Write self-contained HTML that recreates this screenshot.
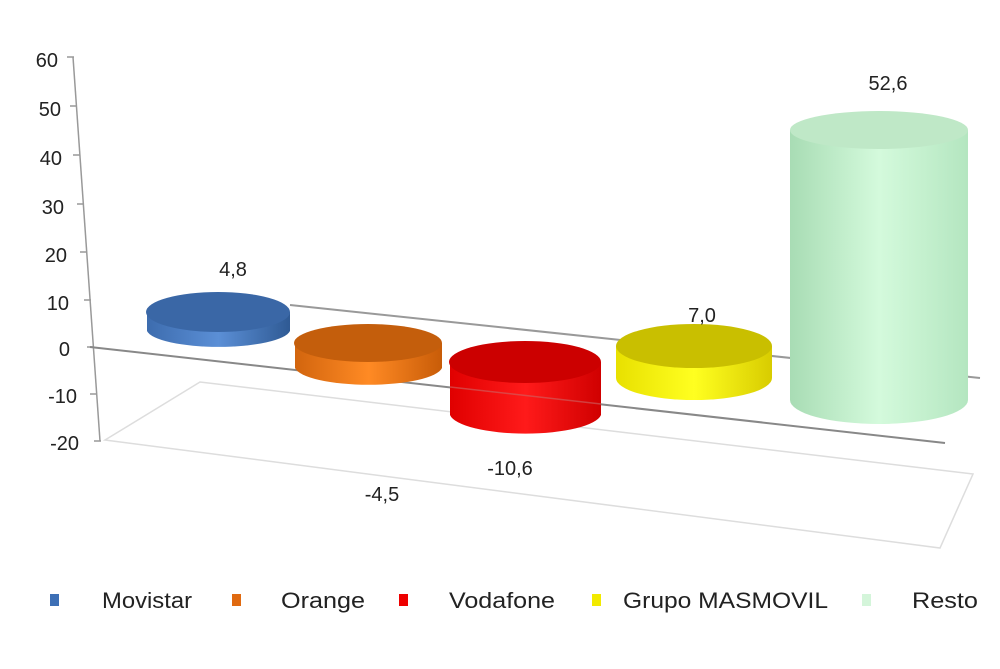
<!DOCTYPE html>
<html><head><meta charset="utf-8"><style>
body{margin:0;background:#fff;}
svg text{font-family:"Liberation Sans",Arial,sans-serif;fill:#222;}
</style></head><body>
<svg width="1000" height="664" viewBox="0 0 1000 664" xmlns="http://www.w3.org/2000/svg">
<defs>
<linearGradient id="gb" x1="0" x2="1"><stop offset="0" stop-color="#3d6cae"/><stop offset="0.5" stop-color="#5b8fd6"/><stop offset="1" stop-color="#2f5a94"/></linearGradient>
<linearGradient id="go" x1="0" x2="1"><stop offset="0" stop-color="#d2650e"/><stop offset="0.5" stop-color="#ff8a24"/><stop offset="1" stop-color="#c85c08"/></linearGradient>
<linearGradient id="gr" x1="0" x2="1"><stop offset="0" stop-color="#e00000"/><stop offset="0.5" stop-color="#ff1a1a"/><stop offset="1" stop-color="#d00000"/></linearGradient>
<linearGradient id="gy" x1="0" x2="1"><stop offset="0" stop-color="#e8e000"/><stop offset="0.5" stop-color="#ffff20"/><stop offset="1" stop-color="#d8cc00"/></linearGradient>
<linearGradient id="gg" x1="0" x2="1"><stop offset="0" stop-color="#a8dcb4"/><stop offset="0.5" stop-color="#d4fadc"/><stop offset="1" stop-color="#b4e6c0"/></linearGradient>
</defs>
<polygon points="105,440 200,382 973,474 940,548" fill="none" stroke="#ddd" stroke-width="1.5"/>
<line x1="290" y1="305" x2="980" y2="378" stroke="#999" stroke-width="2"/>
<line x1="73" y1="57" x2="100" y2="441" stroke="#999" stroke-width="1.5"/>
<g stroke="#999" stroke-width="1.5">
<line x1="67" y1="57" x2="74" y2="57"/><line x1="70" y1="106" x2="77" y2="106"/><line x1="73" y1="155" x2="80" y2="155"/><line x1="77" y1="204" x2="84" y2="204"/><line x1="80" y1="252" x2="87" y2="252"/><line x1="84" y1="300" x2="91" y2="300"/><line x1="87" y1="347" x2="94" y2="347"/><line x1="90" y1="394" x2="97" y2="394"/><line x1="94" y1="441" x2="101" y2="441"/>
</g>
<g font-size="20" text-anchor="end">
<text x="58" y="67">60</text><text x="61" y="116">50</text><text x="62" y="165">40</text><text x="64" y="214">30</text><text x="67" y="262">20</text><text x="69" y="310">10</text><text x="70" y="356">0</text><text x="77" y="403">-10</text><text x="79" y="450">-20</text>
</g>
<path d="M147,312 L147,331 A72,18 0 0 0 290,331 L290,312 Z" fill="url(#gb)"/>
<ellipse cx="218" cy="312" rx="72" ry="20" fill="#3a67a6"/>
<line x1="90" y1="347" x2="945" y2="443" stroke="#888" stroke-width="2"/>
<path d="M295,343 L295,368 A74,19 0 0 0 442,368 L442,343 Z" fill="url(#go)"/>
<ellipse cx="368" cy="343" rx="74" ry="19" fill="#c45e0c"/>
<path d="M450,362 L450,415 A76,21 0 0 0 601,415 L601,362 Z" fill="url(#gr)"/>
<ellipse cx="525" cy="362" rx="76" ry="21" fill="#cc0000"/>
<line x1="450" y1="387" x2="601" y2="404" stroke="#c66" stroke-width="1.5" opacity="0.6"/>
<path d="M616,346 L616,378 A78,22 0 0 0 772,378 L772,346 Z" fill="url(#gy)"/>
<ellipse cx="694" cy="346" rx="78" ry="22" fill="#c9bf00"/>
<path d="M790,130 L790,400 A89,24 0 0 0 968,400 L968,130 Z" fill="url(#gg)"/>
<ellipse cx="879" cy="130" rx="89" ry="19" fill="#bfe8c7"/>
<g font-size="20" text-anchor="middle">
<text x="233" y="276">4,8</text><text x="382" y="501">-4,5</text><text x="510" y="475">-10,6</text><text x="702" y="322">7,0</text><text x="888" y="90">52,6</text>
</g>
<rect x="50" y="594" width="9" height="12" fill="#3d6fb5"/>
<rect x="232" y="594" width="9" height="12" fill="#e06a10"/>
<rect x="399" y="594" width="9" height="12" fill="#ee0000"/>
<rect x="592" y="594" width="9" height="12" fill="#f2ea00"/>
<rect x="862" y="594" width="9" height="12" fill="#d4f5da"/>
<g font-size="22">
<text x="102" y="608" textLength="90" lengthAdjust="spacingAndGlyphs">Movistar</text>
<text x="281" y="608" textLength="84" lengthAdjust="spacingAndGlyphs">Orange</text>
<text x="449" y="608" textLength="106" lengthAdjust="spacingAndGlyphs">Vodafone</text>
<text x="623" y="608" textLength="205" lengthAdjust="spacingAndGlyphs">Grupo MASMOVIL</text>
<text x="912" y="608" textLength="66" lengthAdjust="spacingAndGlyphs">Resto</text>
</g>
</svg>
</body></html>
